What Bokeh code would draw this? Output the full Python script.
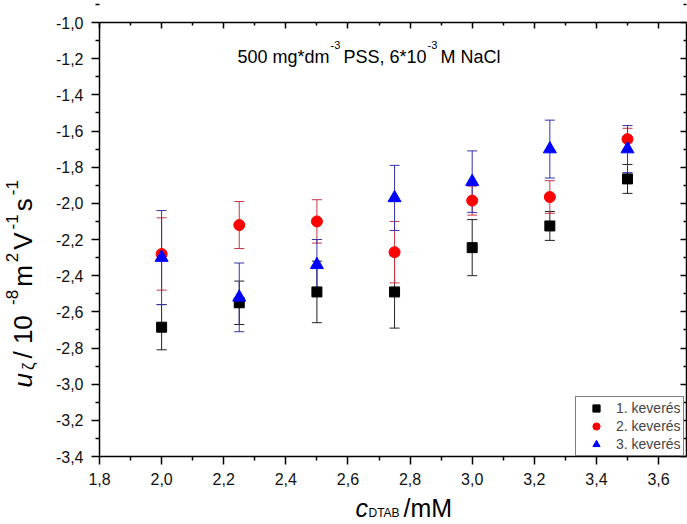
import math
from bokeh.plotting import figure
from bokeh.models import (ColumnDataSource, Whisker, TeeHead, Label, Legend, LegendItem,
                          FixedTicker, LinearAxis, Range1d, CustomJSTickFormatter)
from bokeh.embed import file_html
from bokeh.resources import INLINE

# ---------------- data ----------------
conc = [2.0, 2.25, 2.5, 2.75, 3.0, 3.25, 3.5]
mob1 = [-2.685, -2.55, -2.49, -2.49, -2.245, -2.125, -1.865]
err1 = [0.125, 0.12, 0.17, 0.20, 0.155, 0.08, 0.08]
mob2 = [-2.28, -2.12, -2.10, -2.27, -1.985, -1.965, -1.645]
err2 = [0.20, 0.13, 0.12, 0.17, 0.08, 0.09, 0.06]
mob3 = [-2.30, -2.52, -2.34, -1.97, -1.88, -1.70, -1.70]
err3 = [0.26, 0.19, 0.14, 0.18, 0.17, 0.16, 0.13]
series_names = ["1. keverés", "2. keverés", "3. keverés"]

x_ticks = [1.8, 2.0, 2.2, 2.4, 2.6, 2.8, 3.0, 3.2, 3.4, 3.6]
x_tick_labels = ["1,8", "2,0", "2,2", "2,4", "2,6", "2,8", "3,0", "3,2", "3,4", "3,6"]
y_ticks = [-3.4, -3.2, -3.0, -2.8, -2.6, -2.4, -2.2, -2.0, -1.8, -1.6, -1.4, -1.2, -1.0]
y_tick_labels = ["-3,4", "-3,2", "-3,0", "-2,8", "-2,6", "-2,4", "-2,2", "-2,0",
                 "-1,8", "-1,6", "-1,4", "-1,2", "-1,0"]
x_box = (1.8, 3.69)
y_box = (-3.4, -1.0)

FONT = "Liberation Sans"
W, H = 687, 524
# pixel placement of the axes box inside the canvas
BOX_L, BOX_R, BOX_T, BOX_B = 99, 686, 22, 456

xs = (BOX_R - BOX_L) / (x_box[1] - x_box[0])
ys = (BOX_B - BOX_T) / (y_box[1] - y_box[0])
x_range = Range1d(x_box[0] - BOX_L / xs, x_box[1] + (W - BOX_R) / xs)
y_range = Range1d(y_box[0] - (H - BOX_B) / ys, y_box[1] + BOX_T / ys)

p = figure(width=W, height=H, x_range=x_range, y_range=y_range,
           output_backend="svg", toolbar_location=None,
           min_border=0)
p.grid.visible = False
p.outline_line_color = None
p.background_fill_color = "white"
p.border_fill_color = "white"

x_minor = [round(a + 0.1, 2) for a in x_ticks]
y_minor = [round(a + 0.1, 2) for a in y_ticks]

for ax in (p.xaxis[0], p.yaxis[0]):
    ax.axis_line_width = 1.5
    ax.major_tick_line_width = 1.5
    ax.minor_tick_line_width = 1.5
    ax.major_tick_out = 8
    ax.major_tick_in = 0
    ax.minor_tick_out = 4
    ax.minor_tick_in = 0
    ax.major_label_text_font = FONT
    ax.major_label_text_font_size = "16px"
    ax.major_label_text_color = "#111111"
    ax.major_label_standoff = 8

p.xaxis.ticker = FixedTicker(ticks=x_ticks, minor_ticks=x_minor)
p.yaxis.ticker = FixedTicker(ticks=y_ticks, minor_ticks=y_minor)
p.xaxis.major_label_overrides = {t: l for t, l in zip(x_ticks, x_tick_labels)}
p.yaxis.major_label_overrides = {t: l for t, l in zip(y_ticks, y_tick_labels)}
p.xaxis.fixed_location = y_box[0]
p.xaxis.bounds = x_box
p.yaxis.fixed_location = x_box[0]
p.yaxis.bounds = y_box

top = LinearAxis(ticker=FixedTicker(ticks=x_ticks, minor_ticks=x_minor),
                 formatter=CustomJSTickFormatter(code="return ''"),
                 fixed_location=y_box[1], bounds=x_box,
                 major_tick_in=6, major_tick_out=0, minor_tick_in=3, minor_tick_out=0,
                 major_label_standoff=0,
                 axis_line_width=1.5, major_tick_line_width=1.5, minor_tick_line_width=1.5)
p.add_layout(top, "above")
right = LinearAxis(ticker=FixedTicker(ticks=y_ticks, minor_ticks=y_minor),
                   formatter=CustomJSTickFormatter(code="return ''"),
                   fixed_location=x_box[1], bounds=y_box,
                   major_tick_in=6, major_tick_out=0, minor_tick_in=3, minor_tick_out=0,
                   major_label_standoff=0,
                   axis_line_width=1.5, major_tick_line_width=1.5, minor_tick_line_width=1.5)
p.add_layout(right, "right")

# ---------------- error bars + markers ----------------
colors = ["black", "#ff0000", "#0000ff"]
bar_colors = ["#222222", "#cc3344", "#3333aa"]
markers = ["square", "circle", "triangle"]
sizes = [10, 11, 13]
all_mob = [mob1, mob2, mob3]
all_err = [err1, err2, err3]

sources = []
for mob, err in zip(all_mob, all_err):
    src = ColumnDataSource(dict(x=conc, y=mob,
                                upper=[m + e for m, e in zip(mob, err)],
                                lower=[m - e for m, e in zip(mob, err)]))
    sources.append(src)

for src, bc in zip(sources, bar_colors):
    w = Whisker(base="x", upper="upper", lower="lower", source=src, dimension="height",
                line_color=bc, line_width=1,
                upper_head=TeeHead(size=10, line_color=bc, line_width=1),
                lower_head=TeeHead(size=10, line_color=bc, line_width=1))
    p.add_layout(w)

renderers = []
for src, c, m, s in zip(sources, colors, markers, sizes):
    r = p.scatter("x", "y", source=src, marker=m, size=s, fill_color=c, line_color=c)
    renderers.append(r)

legend = Legend(items=[LegendItem(label=n, renderers=[r]) for n, r in zip(series_names, renderers)],
                location=(575, H - BOX_B), margin=0, padding=2, spacing=0,
                glyph_height=18, glyph_width=36, label_height=18, label_standoff=2,
                label_text_font=FONT, label_text_font_size="14px",
                border_line_color="black", border_line_width=1,
                background_fill_color="white", background_fill_alpha=1.0)
p.add_layout(legend, "center")

SHIFT = 6  # measured offset of the rendered baseline


def lab(x, y_top, text, size, style="normal", angle=0.0):
    """x, y_top: wanted baseline start, canvas pixels from the top-left corner."""
    if angle == 0.0:
        yy = H - (y_top - SHIFT)
        xx = x
    else:
        yy = H - y_top
        xx = x - SHIFT
    p.add_layout(Label(x=xx, y=yy, x_units="screen", y_units="screen", text=text,
                       angle=angle, text_font=FONT, text_font_size=f"{size}px",
                       text_font_style=style, text_baseline="alphabetic",
                       text_align="left", text_color="black"))


# approximate Arial advance widths (em) for laying out rich-text pieces
ADV = {"u": .556, "ζ": .5, " ": .278, "/": .278, "1": .556, "0": .556, "-": .333,
       "8": .556, "m": .833, "2": .556, "V": .667, "s": .5}


def adv(t, size):
    return sum(ADV.get(ch, .556) for ch in t) * size


# ---------------- title ----------------
lab(237, 62, "500 mg*dm", 18)
lab(330, 50, "-3", 11)
lab(343, 62, "PSS, 6*10", 18)
lab(427, 50, "-3", 11)
lab(440, 62, "M NaCl", 18)

# ---------------- x axis label ----------------
lab(355, 513, "c", 25, "italic")
lab(368, 518, "DTAB", 12)
lab(403, 513, "/mM", 25)

# ---------------- y axis label (rotated, reading upward) ----------------
ang = math.pi / 2
BIG, SMALL = 26, 17
base_x = 28
pieces = [("u", BIG, "italic", 0), ("ζ", SMALL, "normal", 6), (" / 10", BIG, "normal", 0),
          ("-8", SMALL, "normal", -11), ("m", BIG, "normal", 0), ("2", SMALL, "normal", -11),
          ("V", BIG, "normal", 0), ("-1", SMALL, "normal", -11), ("s", BIG, "normal", 0),
          ("-1", SMALL, "normal", -11)]
cursor = 387  # page y where the label starts (bottom end)
for txt, sz, st, dx in pieces:
    lab(base_x + dx, cursor, txt, sz, st, ang)
    cursor -= adv(txt, sz) + 3

open("out.html", "w").write(file_html(p, INLINE))
